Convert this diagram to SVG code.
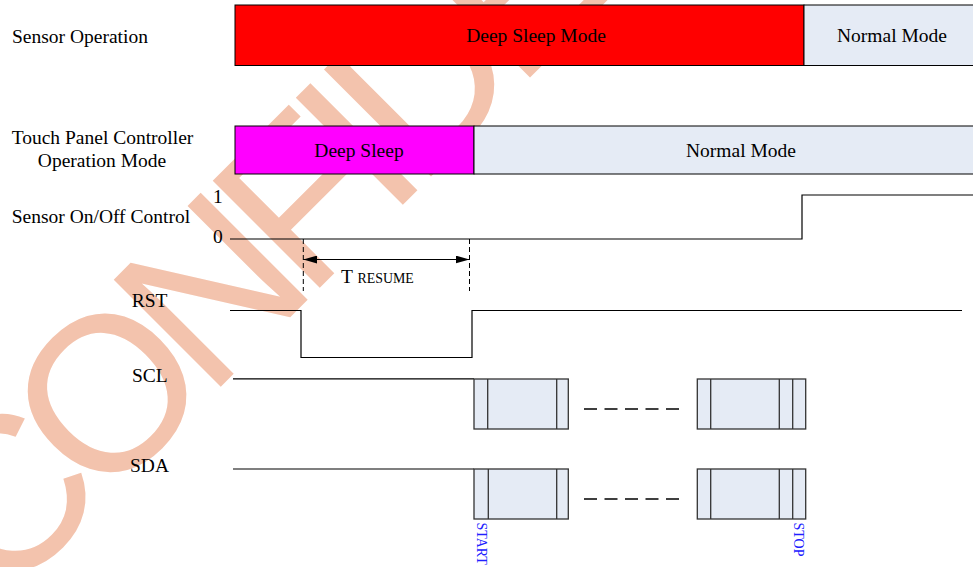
<svg xmlns="http://www.w3.org/2000/svg" width="973" height="567" viewBox="0 0 973 567">
<defs>
<style>
.lbl{font-family:"Liberation Serif","Times New Roman",serif;font-size:19.5px;fill:#000}
.mid{text-anchor:middle}
.sig{fill:none;stroke:#000;stroke-width:1.2}
.box{stroke:#000;stroke-width:1}
.pkt{fill:#e5ebf5;stroke:#333;stroke-width:1.3}
.div{stroke:#333;stroke-width:1.3}
.dash{stroke:#000;stroke-width:1.5;stroke-dasharray:13 7.5}
.vdash{stroke:#000;stroke-width:1;stroke-dasharray:5 3}
.blue{font-family:"Liberation Serif","Times New Roman",serif;font-size:14px;fill:#2020ff}
.wm{font-family:"Liberation Sans",Arial,sans-serif;font-size:220px;fill:#f3c3ad;letter-spacing:-19px}
</style>
<marker id="ah" viewBox="0 0 14 8" refX="14" refY="4" markerWidth="14" markerHeight="8" markerUnits="userSpaceOnUse" orient="auto-start-reverse">
<path d="M0,0 L14,4 L0,8 Z" fill="#000"/>
</marker>
</defs>
<rect width="973" height="567" fill="#fff"/>
<text class="wm" transform="translate(1.5,606) rotate(-45)">CONFIDENTIAL</text>

<g id="labels">
<text class="lbl" x="12" y="42.5">Sensor Operation</text>
<text class="lbl mid" x="102.5" y="144.3">Touch Panel Controller</text>
<text class="lbl mid" x="102" y="166.7">Operation Mode</text>
<text class="lbl" x="11.7" y="222.7">Sensor On/Off Control</text>
<text class="lbl" x="213" y="202.7">1</text>
<text class="lbl" x="213" y="242.7">0</text>
<text class="lbl" x="131.7" y="306.7">RST</text>
<text class="lbl" x="132" y="381.7">SCL</text>
<text class="lbl" x="130" y="471.7">SDA</text>
</g>

<g id="sensor-deep-sleep">
<rect class="box" x="235" y="5" width="569" height="60.5" fill="#ff0000"/>
<text class="lbl mid" x="536" y="42.3">Deep Sleep Mode</text>
</g>
<g id="sensor-normal">
<rect class="box" x="804" y="5" width="175" height="60.5" fill="#e5ebf5"/>
<text class="lbl mid" x="892" y="42.3">Normal Mode</text>
</g>
<g id="tpc-deep-sleep">
<rect class="box" x="235" y="126" width="239" height="48" fill="#ff00ff"/>
<text class="lbl mid" x="359" y="156.8">Deep Sleep</text>
</g>
<g id="tpc-normal">
<rect class="box" x="474" y="126" width="505" height="48" fill="#e5ebf5"/>
<text class="lbl mid" x="741" y="156.8">Normal Mode</text>
</g>

<g id="sensor-onoff">
<path class="sig" d="M230,239 H802 V195 H973"/>
</g>
<g id="rst">
<path class="sig" d="M230,310.5 H301 V357.5 H472 V310.5 H962"/>
</g>

<g id="t-resume">
<line class="vdash" x1="303.3" y1="239" x2="303.3" y2="291"/>
<line class="vdash" x1="469.5" y1="239" x2="469.5" y2="291"/>
<line x1="303.3" y1="259.5" x2="469.5" y2="259.5" stroke="#000" stroke-width="1.2" marker-start="url(#ah)" marker-end="url(#ah)"/>
<text class="lbl" x="341" y="283.3">T <tspan font-size="13.9px">RESUME</tspan></text>
</g>

<g id="scl">
<line class="sig" x1="233" y1="378.8" x2="474" y2="378.8"/>
<rect class="pkt" x="474" y="379" width="94.3" height="50"/>
<line class="div" x1="487.7" y1="379" x2="487.7" y2="429"/>
<line class="div" x1="556.7" y1="379" x2="556.7" y2="429"/>
<line class="dash" x1="584" y1="409" x2="679" y2="409"/>
<rect class="pkt" x="697.3" y="379" width="108.4" height="50"/>
<line class="div" x1="710.7" y1="379" x2="710.7" y2="429"/>
<line class="div" x1="779.3" y1="379" x2="779.3" y2="429"/>
<line class="div" x1="792.7" y1="379" x2="792.7" y2="429"/>
</g>

<g id="sda">
<line class="sig" x1="233" y1="469" x2="474" y2="469"/>
<rect class="pkt" x="474" y="469" width="94.3" height="50"/>
<line class="div" x1="488.3" y1="469" x2="488.3" y2="519"/>
<line class="div" x1="556.7" y1="469" x2="556.7" y2="519"/>
<line class="dash" x1="584" y1="499" x2="679" y2="499"/>
<rect class="pkt" x="697.3" y="469" width="108.4" height="50"/>
<line class="div" x1="710.7" y1="469" x2="710.7" y2="519"/>
<line class="div" x1="779.3" y1="469" x2="779.3" y2="519"/>
<line class="div" x1="792.7" y1="469" x2="792.7" y2="519"/>
</g>

<g id="markers">
<text class="blue" transform="translate(477,522.5) rotate(90)">START</text>
<text class="blue" transform="translate(793.5,522.5) rotate(90)">STOP</text>
</g>
</svg>
